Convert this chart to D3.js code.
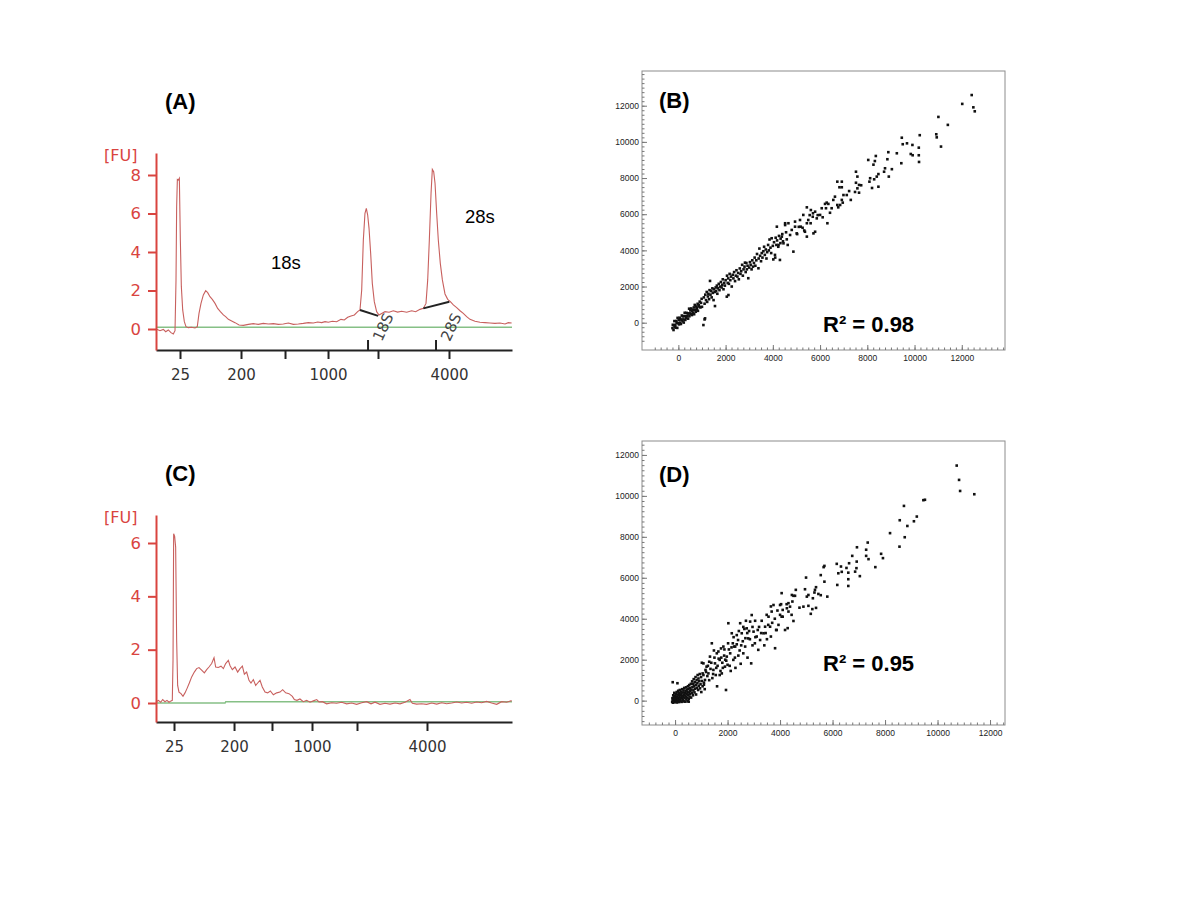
<!DOCTYPE html>
<html>
<head>
<meta charset="utf-8">
<script src="https://cdn.jsdelivr.net/npm/d3@7"></script>
<style>
  body { margin: 0; background: #fff; }
  svg { display: block; }
</style>
</head>
<body>
<div id="chart"></div>
<script>
// ---- electropherogram data (migration time in s, fluorescence in FU) ----
const ladderSizes = [25, 200, 500, 1000, 2000, 4000];
const ladderLabels = ["25", "200", "", "1000", "", "4000"];
const ladderTimesA = [23.37, 31.94, 38.12, 44.16, 51.18, 61.15];
const ladderTimesC = [22.53, 30.96, 36.29, 41.91, 48.23, 58.06];
const fuTicks = { A: [0, 2, 4, 6, 8], C: [0, 2, 4, 6] };

const traceA = [
  [20.0, 0.0], [20.56, -0.09], [21.03, -0.02], [21.36, -0.14], [21.73, -0.05], [22.1, -0.19],
  [22.43, -0.26], [22.67, -0.09], [22.81, 2.55], [22.9, 6.35], [23.0, 7.77], [23.14, 7.74],
  [23.28, 7.83], [23.42, 4.62], [23.56, 2.2], [23.75, 0.99], [23.98, 0.38], [24.21, 0.12],
  [24.54, 0.07], [25.0, 0.09], [25.48, 0.05], [25.8, 0.12], [26.04, 0.81], [26.32, 1.33],
  [26.65, 1.77], [26.98, 1.99], [27.26, 1.89], [27.58, 1.68], [27.91, 1.54], [28.29, 1.33],
  [28.66, 1.07], [29.04, 0.9], [29.46, 0.73], [29.78, 0.64], [30.16, 0.5], [30.63, 0.42],
  [31.1, 0.33], [31.66, 0.21], [32.27, 0.19], [32.97, 0.24], [33.67, 0.28], [34.37, 0.24],
  [35.07, 0.29], [35.78, 0.26], [36.48, 0.28], [37.18, 0.24], [37.88, 0.26], [38.59, 0.31],
  [39.29, 0.24], [39.99, 0.26], [40.69, 0.29], [41.4, 0.33], [42.1, 0.31], [42.71, 0.36],
  [43.27, 0.33], [43.74, 0.38], [44.2, 0.35], [44.77, 0.4], [45.37, 0.38], [45.98, 0.5],
  [46.45, 0.47], [46.92, 0.61], [47.39, 0.68], [47.86, 0.73], [48.32, 0.9], [48.65, 0.99],
  [48.89, 2.03], [49.12, 4.62], [49.35, 6.01], [49.54, 6.27], [49.73, 5.92], [49.92, 5.23],
  [50.15, 3.93], [50.38, 2.37], [50.66, 1.42], [50.99, 0.9], [51.32, 0.73], [51.7, 0.81],
  [52.16, 0.9], [52.73, 0.87], [53.33, 0.95], [53.94, 0.88], [54.5, 0.92], [55.21, 0.87],
  [55.91, 0.95], [56.47, 0.9], [57.08, 1.02], [57.55, 1.07], [57.92, 1.33], [58.16, 2.55],
  [58.39, 4.62], [58.63, 7.05], [58.81, 8.29], [59.0, 8.17], [59.19, 7.57], [59.42, 6.01],
  [59.65, 4.62], [59.93, 3.41], [60.22, 2.55], [60.59, 1.82], [60.97, 1.54], [61.34, 1.42],
  [61.76, 1.25], [62.23, 1.11], [62.7, 0.95], [63.16, 0.81], [63.63, 0.64], [64.1, 0.5],
  [64.8, 0.4], [65.5, 0.35], [66.21, 0.33], [66.91, 0.31], [67.61, 0.29], [68.31, 0.31],
  [69.02, 0.26], [69.49, 0.33], [69.95, 0.31]
];
const baselineA = [[20.0, 0.09], [70.0, 0.09]];
// peak integration baselines and marker times (18S, 28S)
const peakBaselinesA = [
  [[48.65, 0.99], [51.2, 0.68]],
  [[57.55, 1.07], [61.2, 1.42]]
];
const peakMarkersA = [
  { name: "18S", time: 49.78 },
  { name: "28S", time: 59.33 }
];

const traceC = [
  [20.0, 0.04], [20.33, 0.1], [20.66, 0.03], [20.94, 0.13], [21.26, 0.05], [21.54, 0.1],
  [21.83, 0.03], [22.11, 0.08], [22.29, 0.1], [22.39, 1.6], [22.48, 6.35], [22.62, 6.25],
  [22.76, 5.85], [22.9, 2.35], [23.04, 0.66], [23.23, 0.41], [23.51, 0.35], [23.79, 0.25],
  [24.07, 0.38], [24.35, 0.54], [24.68, 0.75], [25.01, 0.98], [25.38, 1.16], [25.71, 1.29],
  [26.04, 1.33], [26.41, 1.23], [26.79, 1.13], [27.12, 1.25], [27.44, 1.35], [27.82, 1.48],
  [28.15, 1.7], [28.38, 1.35], [28.75, 1.33], [29.13, 1.38], [29.46, 1.29], [29.78, 1.48],
  [30.16, 1.6], [30.39, 1.41], [30.72, 1.25], [31.1, 1.35], [31.47, 1.16], [31.8, 1.29],
  [32.13, 1.38], [32.41, 1.08], [32.73, 1.16], [33.06, 0.85], [33.34, 0.75], [33.67, 0.88],
  [34.0, 0.66], [34.28, 0.75], [34.61, 0.85], [34.93, 0.6], [35.31, 0.41], [35.68, 0.38],
  [36.06, 0.45], [36.48, 0.31], [36.95, 0.38], [37.42, 0.41], [37.79, 0.5], [38.21, 0.38],
  [38.68, 0.35], [39.15, 0.25], [39.43, 0.13], [39.8, 0.1], [40.22, 0.15], [40.69, 0.05],
  [41.16, 0.1], [41.63, 0.03], [42.1, 0.08], [42.57, 0.13], [42.89, 0.04], [43.36, 0.05],
  [43.97, -0.03], [44.67, 0.01], [45.37, -0.01], [46.08, 0.03], [46.78, -0.03], [47.48, 0.0],
  [48.18, -0.05], [48.89, 0.01], [49.59, 0.05], [50.2, -0.03], [50.76, 0.03], [51.46, -0.05],
  [52.16, -0.01], [52.87, -0.04], [53.57, 0.0], [54.27, -0.03], [54.97, 0.03], [55.67, 0.13],
  [56.0, -0.01], [56.61, -0.04], [57.31, -0.03], [58.01, -0.05], [58.72, 0.0], [59.42, -0.04],
  [60.12, 0.01], [60.82, -0.03], [61.53, 0.0], [62.23, 0.04], [62.93, 0.0], [63.63, 0.03],
  [64.34, -0.01], [65.04, 0.04], [65.74, 0.01], [66.44, 0.06], [67.14, 0.0], [67.85, -0.05],
  [68.55, 0.05], [69.25, 0.03], [69.95, 0.09]
];
const baselineC = [[20.0, 0.0], [29.7, 0.0], [29.8, 0.05], [70.0, 0.05]];

// ---- expression scatter data (x, y) ----
const scatterB = [
  [-250,-300],[-235,-115],[-205,-405],[-190,-150],[-168,90],[-152,-240],[-128,-118],[-115,-275],[-88,92],[-72,-2],
  [-47,-287],[-33,267],[-12,-32],[14,154],[27,-93],[55,275],[66,6],[93,183],[108,-72],[134,164],
  [147,397],[175,75],[186,346],[213,183],[228,8],[256,366],[268,548],[294,154],[305,355],[333,263],
  [346,546],[374,364],[388,518],[413,223],[426,506],[455,775],[467,357],[494,514],[508,678],[535,485],
  [546,786],[573,423],[588,648],[614,714],[627,547],[655,845],[668,468],[694,984],[707,707],[736,606],
  [748,898],[777,817],[786,726],[815,1045],[828,658],[856,936],[866,986],[894,874],[905,1165],[935,845],
  [960,1100],[985,1320],[1000,880],
  [1060,-130],[1130,240],[1110,180],
  [1080,1400],[1110,1050],[1140,1550],[1170,1250],[1200,1700],[1220,1150],[1250,1450],[1270,1600],[1300,1300],[1320,1800],
  [1340,2310],[1360,1550],[1390,1750],[1410,1400],[1440,1900],[1460,1650],[1490,1250],[1510,1850],[1540,1700],[1550,920],
  [1580,1950],[1600,1750],[1630,2050],[1650,1600],[1680,1900],[1710,2150],[1740,1800],[1770,2000],[1800,2250],[1830,1950],
  [1860,2100],[1880,2400],[1910,1850],[1940,2200],[1970,2050],[2000,2350],[2050,1440],[2060,2600],[2090,2200],[2120,1530],
  [2110,2450],[2140,2150],[2170,2700],[2200,2350],[2230,2550],[2260,2000],[2300,2650],[2330,2450],[2360,2800],[2400,2300],
  [2430,2600],[2460,2900],[2500,2550],[2530,2750],[2560,2400],[2600,3000],[2630,2700],[2660,2850],[2700,3200],[2730,2600],
  [2760,2950],[2800,3100],[2820,3320],[2850,2800],[2880,3300],[2900,2950],[2930,3150],[2960,2460],[3000,3050],[3030,3350],
  [3060,3200],[3100,2950],[3130,3450],[3160,3100],[3200,3300],[3230,3600],[3260,3150],[3300,3450],[3330,3800],[3390,3010],
  [3400,3550],[3430,4100],[3460,3700],[3500,3400],[3530,3850],[3560,3600],[3600,3950],[3630,4200],[3660,3750],[3700,4050],
  [3730,3550],[3760,3900],[3800,4300],[3830,4000],[3860,4600],[3900,4150],[3930,3850],[3950,4670],[4000,4250],[4020,3500],
  [4050,4450],[4090,3750],[4100,3600],[4120,4700],[4170,5310],[4150,4300],[4180,4550],[4230,4200],[4240,4300],[4260,4800],
  [4300,3470],[4320,4400],[4330,4650],[4380,4760],[4400,4900],[4450,4390],[4430,4500],[4520,5400],[4520,5500],[4590,4610],
  [4560,5000],[4660,5500],[4730,4850],[4630,4300],[4800,5130],[4870,3930],[4940,5590],[4940,5310],[5010,4940],
  [5030,4900],[5150,5680],[5180,5310],[5100,5300],[5290,5960],[5360,5030],[5440,5500],[5440,4760],[5500,5680],[5440,6380],
  [5610,6230],[5690,5860],[5720,4940],[5790,5030],[5790,6140],[5860,5770],[6000,5960],[6070,6330],[6110,5830],[5260,5250],
  [5560,5950],[5330,5100],[5600,5500],[5900,5950],[5700,6050],
  [6210,6570],[6250,6330],[6280,6640],[6310,5500],[6350,6570],[6420,6080],[6490,6330],[6560,6790],[6630,6970],[6730,6510],
  [6730,7800],[6770,6380],[6820,7490],[6850,6510],[6920,7800],[6920,7490],[6920,6790],[6960,6640],[6990,7060],[7130,7060],
  [7230,7280],[7300,6790],
  [7480,7230],[7520,8350],[7520,7740],[7580,8080],[7580,7430],[7650,7620],[7650,7190],[7740,7600],
  [8040,9000],[8090,7800],[8120,7990],[8200,7450],[8260,8740],[8290,7930],[8320,8940],[8360,9220],[8400,8080],[8470,8220],
  [8470,7520],[8710,8350],[8750,8540],[8850,9040],[8890,9430],[8910,8080],[9040,8490],[9250,9370],[9440,8820],[9460,10230],
  [9500,9870],[9680,9920],[9840,9330],[9910,9830],[9920,9260],[10180,9680],[10180,9260],[10190,8890],[10220,10370],[10920,10420],
  [10940,10250],[11010,11380],[11120,9740],[11410,10940],[12020,12100],[12420,12590],[12490,11910],[12550,11690]
];

const scatterD = [
  [-110,-60],[-100,120],[-90,30],[-80,-100],[-70,260],[-60,80],[-50,-20],[-40,180],[-30,380],[-20,-80],
  [-10,60],[0,240],[10,-40],[20,150],[30,330],[40,10],[50,90],[60,420],[70,-90],[80,200],
  [90,300],[100,-20],[110,120],[120,480],[130,40],[140,260],[150,-70],[160,360],[170,170],[180,520],
  [190,60],[200,280],[210,-30],[220,440],[230,140],[240,330],[250,-60],[260,220],[270,560],[280,90],
  [290,400],[300,180],[310,20],[320,500],[330,290],[340,-40],[350,620],[360,130],[370,380],[380,250],
  [390,-50],[400,480],[410,200],[420,650],[430,60],[440,330],[450,540],[460,150],[470,420],[480,-30],
  [490,700],[500,280],[510,560],[520,90],[530,400],[540,760],[550,200],[560,620],[570,330],[580,480],
  [600,820],[610,150],[620,540],[640,380],[650,940],[660,660],[680,260],[690,820],[700,500],[710,1050],
  [720,700],[740,400],[750,900],[760,580],[780,1150],[790,760],[800,300],[820,1000],[830,620],[850,850],
  [860,1250],[880,520],[890,1080],[900,720],[920,950],[940,1300],[950,600],[970,800],[990,1150],[1000,420],
  [1020,960],[1050,700],[1080,1250],[1100,880],[1130,560],
  [-90,900],[90,850],[520,-50],
  [1020,1850],[1050,1330],[1080,1820],[1100,780],[1140,1010],[1160,1500],[1200,1660],[1230,1200],[1270,1330],[1300,1900],
  [1330,2150],[1350,1550],[1400,2800],[1420,1100],[1460,1500],[1480,2450],[1520,1820],[1550,1250],[1590,2310],[1600,700],
  [1620,1700],[1660,2050],[1700,1990],[1730,1450],[1750,2550],[1780,1330],[1800,1850],[1840,2640],[1870,2200],[1900,1660],
  [1910,2000],[1940,520],[1970,2150],[2000,1750],[2030,3780],[2050,2500],
  [1180,1400],[1250,1700],[1300,1000],[1380,1850],[1450,1300],[1500,2100],[1570,1600],[1650,2400],[1700,1250],[1760,2100],
  [1820,1600],[1880,2500],[1950,1950],[2020,2800],[2080,1700],[2150,2600],[2230,3100],[2280,2100],[2350,2750],[2430,3400],
  [2520,2700],[2600,3600],[2680,3050],[2750,3300],[2850,3000],[2950,3600],[3050,3900],[3150,3450],[3300,3900],[3450,3300],
  [3550,3700],[3650,4600],[3800,4000],[3900,4400],
  [2100,2310],[2120,1450],[2160,3290],[2200,2800],[2220,1990],[2250,2640],[2290,2640],[2300,1600],[2350,3200],[2400,2960],
  [2410,2200],[2460,2450],[2480,3780],[2500,1800],[2540,3290],[2580,2900],[2600,2310],[2640,3500],[2670,2640],[2700,3900],
  [2730,3530],[2760,2100],[2790,3040],[2820,3400],[2860,3860],[2900,1820],[2920,4180],[2950,2700],[2990,3370],[3040,2800],
  [3060,3100],
  [3110,3130],[3170,2480],[3200,3600],[3240,2960],[3280,3300],[3370,3290],[3400,2700],[3430,3610],[3490,4190],[3500,3000],
  [3560,4100],[3620,3610],[3650,3130],[3680,4350],[3700,3800],[3750,4670],[3810,2560],[3850,3450],[3870,3450],[3940,3700],
  [4000,4190],
  [4000,4670],[4040,4710],[4060,5250],[4060,4100],[4100,4100],[4100,4430],[4190,3450],[4250,4710],[4260,4510],[4290,3540],
  [4320,4350],[4320,4760],[4380,4590],[4440,4190],[4450,5160],[4470,4840],[4510,3890],[4510,5120],[4570,5120],[4600,5410],
  [4740,4540],[4890,4590],[4950,5440],[4990,6010],[5020,5080],[5080,5160],
  [5080,4630],[5170,4240],[5230,4470],[5250,5000],[5310,5280],[5330,5410],[5370,5540],[5370,4530],[5460,5210],[5550,5150],
  [5550,6130],[5660,6520],[5690,6580],[5690,5810],[5800,5080],[6160,6680],[6180,5650],[6220,6220],
  [6320,6550],[6350,6290],[6530,6480],[6600,5930],[6600,6250],[6600,5600],[6630,6710],[6750,7070],[6860,6300],[6910,6470],
  [6920,6790],[6930,7490],[7040,6080],
  [7280,7370],[7280,7070],[7340,7720],[7370,6910],[7630,6520],[7850,7170],[7920,6960],[8190,8180],[8550,7520],[8560,8810],
  [8750,7980],[8720,9510],[8850,8530],[9100,8760],[9210,8990],[9460,9790],[9520,9810],[10730,11480],[10820,10780],[10860,10240],
  [11400,10080]
];

const svg = d3.select("#chart").append("svg")
  .attr("width", 1200)
  .attr("height", 900)
  .style("background", "#fff");

const red = "#d9443f";
const timeDomain = [20, 70];

function drawTrace(cfg) {
  const g = svg.append("g");
  const x = d3.scaleLinear().domain(timeDomain).range([156, 512]);
  const y = d3.scaleLinear().domain(cfg.fuDomain).range([cfg.bottom, cfg.top]);
  const line = d3.line().x((d) => x(d[0])).y((d) => y(d[1]));

  // baseline (green)
  g.append("path")
    .datum(cfg.baseline)
    .attr("d", line)
    .attr("fill", "none")
    .attr("stroke", "#86c086")
    .attr("stroke-width", 1.5);

  // trace
  g.append("path")
    .datum(cfg.trace)
    .attr("d", line)
    .attr("fill", "none")
    .attr("stroke", "#c8605e")
    .attr("stroke-width", 1.1);

  // x axis (ladder)
  const xAxis = d3.axisBottom(x)
    .tickValues(cfg.ladder)
    .tickFormat((d, i) => ladderLabels[i])
    .tickSize(9)
    .tickSizeOuter(0)
    .tickPadding(10);
  const xg = g.append("g")
    .attr("transform", `translate(0,${cfg.bottom})`)
    .call(xAxis);
  xg.select(".domain").attr("stroke", "#222").attr("stroke-width", 2);
  xg.selectAll(".tick line").attr("stroke", "#222").attr("stroke-width", 2);
  xg.selectAll(".tick text")
    .attr("fill", "#333")
    .style("font-family", "DejaVu Sans, Verdana, sans-serif")
    .style("font-size", "15px");

  // y axis (FU)
  const yAxis = d3.axisLeft(y)
    .tickValues(cfg.fuTicks)
    .tickSize(8)
    .tickSizeOuter(0)
    .tickPadding(7);
  const yg = g.append("g")
    .attr("transform", "translate(156,0)")
    .call(yAxis);
  yg.select(".domain").attr("stroke", red).attr("stroke-width", 2);
  yg.selectAll(".tick line").attr("stroke", red).attr("stroke-width", 2);
  yg.selectAll(".tick text")
    .attr("fill", red)
    .style("font-family", "DejaVu Sans, Verdana, sans-serif")
    .style("font-size", "16.5px");

  g.append("text")
    .attr("x", 104)
    .attr("y", cfg.top + 8)
    .attr("fill", red)
    .style("font-family", "DejaVu Sans, Verdana, sans-serif")
    .style("font-size", "16px")
    .text("[FU]");

  g.append("text")
    .attr("x", 165)
    .attr("y", cfg.labelY)
    .style("font-family", "Liberation Sans, Arial, sans-serif")
    .style("font-size", "22px")
    .style("font-weight", "bold")
    .text(cfg.label);

  // peak baselines and markers
  if (cfg.peakBaselines) {
    g.selectAll("path.peakbase")
      .data(cfg.peakBaselines)
      .join("path")
      .attr("class", "peakbase")
      .attr("d", line)
      .attr("stroke", "#222")
      .attr("stroke-width", 2);

    const m = g.selectAll("g.marker")
      .data(cfg.peakMarkers)
      .join("g")
      .attr("class", "marker")
      .attr("transform", (d) => `translate(${x(d.time)},${cfg.bottom})`);
    m.append("line")
      .attr("y1", 0)
      .attr("y2", -10)
      .attr("stroke", "#222")
      .attr("stroke-width", 2);
    m.append("text")
      .attr("transform", "translate(15,-23) rotate(-65)")
      .attr("text-anchor", "middle")
      .attr("dy", "0.35em")
      .attr("fill", "#444")
      .style("font-family", "DejaVu Sans, Verdana, sans-serif")
      .style("font-size", "15px")
      .text((d) => d.name);
  }

  (cfg.notes || []).forEach((n) => {
    g.append("text")
      .attr("x", n.x)
      .attr("y", n.y)
      .style("font-family", "Liberation Sans, Arial, sans-serif")
      .style("font-size", "18.5px")
      .text(n.text);
  });
}

function drawScatter(cfg) {
  const g = svg.append("g");
  const x = d3.scaleLinear().domain(cfg.xDomain).range([642, 1005]);
  const y = d3.scaleLinear().domain(cfg.yDomain).range([cfg.bottom, cfg.top]);

  g.append("rect")
    .attr("x", 642)
    .attr("y", cfg.top)
    .attr("width", 363)
    .attr("height", cfg.bottom - cfg.top)
    .attr("fill", "#fff")
    .attr("stroke", "#8c8c8c")
    .attr("stroke-width", 1);

  const minorX = d3.range(-1000, cfg.xDomain[1], 250);
  const minorY = d3.range(-1000, cfg.yDomain[1], 250);
  const major = d3.range(0, 12001, 2000);

  const styleAxis = (sel) => {
    sel.select(".domain").remove();
    sel.selectAll(".tick line").attr("stroke", "#777");
    sel.selectAll(".tick text")
      .attr("fill", "#222")
      .style("font-family", "Liberation Sans, Arial, sans-serif")
      .style("font-size", "8.5px");
  };

  g.append("g").attr("transform", `translate(0,${cfg.bottom})`)
    .call(d3.axisBottom(x).tickValues(minorX).tickSize(-2.5).tickFormat(""))
    .call(styleAxis);
  g.append("g").attr("transform", `translate(0,${cfg.bottom})`)
    .call(d3.axisBottom(x).tickValues(major).tickSize(-5).tickPadding(5).tickFormat(d3.format("d")))
    .call(styleAxis);
  g.append("g").attr("transform", "translate(642,0)")
    .call(d3.axisLeft(y).tickValues(minorY).tickSize(-2.5).tickFormat(""))
    .call(styleAxis);
  g.append("g").attr("transform", "translate(642,0)")
    .call(d3.axisLeft(y).tickValues(major).tickSize(-5).tickPadding(3).tickFormat(d3.format("d")))
    .call(styleAxis);

  g.selectAll("rect.pt")
    .data(cfg.points)
    .join("rect")
    .attr("class", "pt")
    .attr("x", (d) => x(d[0]) - 1.3)
    .attr("y", (d) => y(d[1]) - 1.3)
    .attr("width", 2.6)
    .attr("height", 2.6)
    .attr("fill", "#111");

  g.append("text")
    .attr("x", 659)
    .attr("y", cfg.top + (cfg.labelOffset || 37))
    .style("font-family", "Liberation Sans, Arial, sans-serif")
    .style("font-size", "22px")
    .style("font-weight", "bold")
    .text(cfg.label);

  g.append("text")
    .attr("x", 823)
    .attr("y", cfg.r2Y)
    .style("font-family", "Liberation Sans, Arial, sans-serif")
    .style("font-size", "22px")
    .style("font-weight", "bold")
    .text(cfg.r2);
}

drawTrace({
  trace: traceA, baseline: baselineA, ladder: ladderTimesA, fuTicks: fuTicks.A,
  fuDomain: [-1.091, 9.143], top: 153, bottom: 350, label: "(A)", labelY: 109,
  peakBaselines: peakBaselinesA, peakMarkers: peakMarkersA,
  notes: [{ x: 271, y: 269, text: "18s" }, { x: 465, y: 223, text: "28s" }]
});

drawTrace({
  trace: traceC, baseline: baselineC, ladder: ladderTimesC, fuTicks: fuTicks.C,
  fuDomain: [-0.712, 7.05], top: 515, bottom: 722, label: "(C)", labelY: 481
});

drawScatter({
  points: scatterB, xDomain: [-1540, 13830], yDomain: [-1510, 13920],
  top: 71, bottom: 350, label: "(B)", labelOffset: 37, r2: "R² = 0.98", r2Y: 332
});

drawScatter({
  points: scatterD, xDomain: [-1260, 12570], yDomain: [-1190, 12680],
  top: 441, bottom: 725, label: "(D)", labelOffset: 41, r2: "R² = 0.95", r2Y: 671
});
</script>
</body>
</html>
